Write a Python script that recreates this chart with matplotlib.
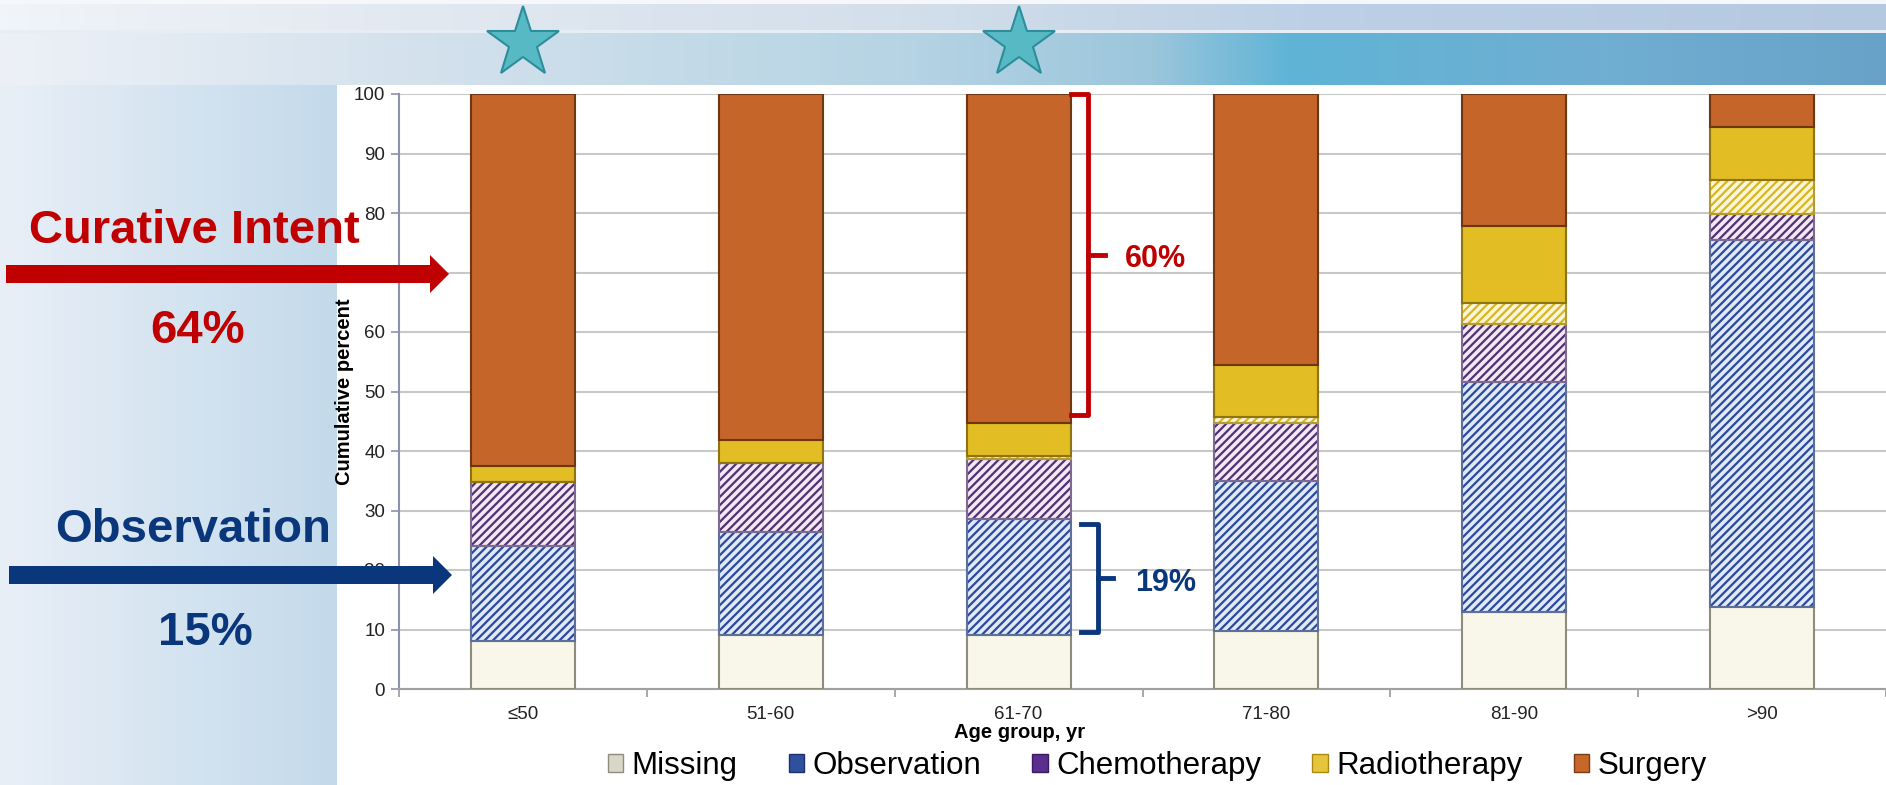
import numpy as np
import matplotlib
matplotlib.use("Agg")
import matplotlib.pyplot as plt
from matplotlib.colors import to_rgb
from matplotlib.patches import Patch, FancyArrow

plt.rcParams['font.family'] = ['Liberation Sans', 'DejaVu Sans']
plt.rcParams['hatch.linewidth'] = 1.6

# DATA (percent of patients per age group)
age_groups = ['≤50', '51-60', '61-70', '71-80', '81-90', '>90']
missing = [8.0, 9.0, 9.0, 9.8, 12.9, 13.8]
observation = [16.0, 17.4, 19.6, 25.2, 38.7, 61.6]
chemotherapy = [10.8, 11.5, 10.1, 9.7, 9.8, 4.4]
radio_hatched = [0.0, 0.0, 0.5, 1.0, 3.5, 5.8]
radiotherapy = [2.7, 3.9, 5.5, 8.8, 12.9, 8.9]
surgery = [62.5, 58.2, 55.3, 45.5, 22.2, 5.5]
starred = ['≤50', '61-70']
curative_range = [46, 100]
observation_range = [9.5, 27.8]

RED = '#C00000'
BLUE = '#0A367C'

W, H = 1886, 785


def hgrad(stops):
    xs = [s[0] for s in stops]
    cols = np.array([to_rgb(s[1]) for s in stops])
    xx = np.arange(W)
    return np.stack([np.interp(xx, xs, cols[:, k]) for k in range(3)], axis=1)


def main():
    fig = plt.figure(figsize=(W / 100, H / 100), dpi=100)

    # slide background
    upper = hgrad([(0, '#f1f4f8'), (400, '#e3e9f1'), (900, '#d3dfeb'),
                   (1300, '#bdd0e5'), (1886, '#b4c8e0')])
    lower = hgrad([(0, '#edf1f7'), (400, '#d5e2ed'), (900, '#b6d4e4'),
                   (1150, '#9cc6dc'), (1290, '#5fb4d6'), (1600, '#70aed2'),
                   (1886, '#68a2c8')])
    left = hgrad([(0, '#e9eff7'), (337, '#c3daeb'), (1886, '#c3daeb')])
    img = np.ones((H, W, 3))
    img[0:4] = to_rgb('#f5f7fa')
    img[4:30] = upper
    img[30:33] = to_rgb('#e6edf4')
    img[33:85] = lower
    img[85:, :337] = left[:337]
    bg = fig.add_axes([0, 0, 1, 1], zorder=0)
    bg.imshow(img, extent=[0, W, H, 0], aspect='auto', interpolation='bilinear')
    bg.set_xlim(0, W)
    bg.set_ylim(H, 0)
    bg.axis('off')

    # chart
    ax = fig.add_axes([399 / W, 1 - 689 / H, 1 - 399 / W, (689 - 94) / H], zorder=1)
    ax.set_facecolor('white')
    x = np.arange(len(age_groups))
    width = 0.42

    layers = [
        (missing, '#f8f7ea', None, None, '#8f8c7c'),
        (observation, '#e0e9f7', '////', '#2c4a9c', '#5f6f9c'),
        (chemotherapy, '#f4e6f2', '////', '#4d3274', '#7d6a90'),
        (radio_hatched, '#fbf6d8', '////', '#d8b622', '#b59a30'),
        (radiotherapy, '#e2bd24', None, None, '#8e7410'),
        (surgery, '#c5652a', None, None, '#6e3612'),
    ]
    bottom = np.zeros(len(age_groups))
    for vals, face, hatch, hcol, edge in layers:
        vals = np.array(vals)
        if hatch:
            ax.bar(x, vals, width, bottom=bottom, color=face, hatch=hatch,
                   edgecolor=hcol, linewidth=0, zorder=2)
        else:
            ax.bar(x, vals, width, bottom=bottom, color=face, linewidth=0, zorder=2)
        ax.bar(x, vals, width, bottom=bottom, fill=False, edgecolor=edge,
               linewidth=1.5, zorder=3)
        bottom += vals

    ax.set_xlim(-0.5, len(age_groups) - 0.5)
    ax.set_ylim(0, 100)
    ax.set_yticks(range(0, 101, 10))
    ax.set_xticks(x)
    ax.set_xticklabels(age_groups)
    ax.set_xticks(np.arange(-0.5, len(age_groups), 1), minor=True)
    ax.tick_params(axis='x', which='major', length=0, pad=12, labelsize=13.5, labelcolor='#222222')
    ax.tick_params(axis='x', which='minor', length=6, color='#9a9a9a', width=1.2)
    ax.tick_params(axis='y', length=6, color='#8c92ac', width=1.2, labelsize=13.5,
                   labelcolor='#222222', pad=4)
    ax.grid(axis='y', color='#c8c8c8', linewidth=1.5)
    ax.set_axisbelow(True)
    for s in ['top', 'right']:
        ax.spines[s].set_visible(False)
    ax.spines['left'].set_color('#8c92ac')
    ax.spines['left'].set_linewidth(1.5)
    ax.spines['bottom'].set_color('#a0a0a0')
    ax.spines['bottom'].set_linewidth(1.5)

    ax.set_ylabel('Cumulative percent', fontsize=14.5, fontweight='bold')
    ax.yaxis.set_label_coords(-0.030, 0.5)
    ax.set_xlabel('Age group, yr', fontsize=14.5, fontweight='bold')
    ax.xaxis.set_label_coords((1020 - 399) / (W - 399), -0.057)

    # stars above highlighted groups
    sx = [age_groups.index(a) for a in starred]
    ax.plot(sx, [108.6] * len(sx), marker='*', ls='none', ms=54, mfc='#56b9c4',
            mec='#2d8e9b', mew=1.5, clip_on=False, zorder=5)

    # brackets next to the 61-70 bar
    i3 = age_groups.index('61-70')
    lo, hi = curative_range
    ax.plot([i3 + 0.21, i3 + 0.28, i3 + 0.28, i3 + 0.21], [hi, hi, lo, lo], color=RED,
            lw=3.5, solid_joinstyle='round', clip_on=False, zorder=5)
    ax.plot([i3 + 0.28, i3 + 0.35], [(lo + hi) / 2] * 2, color=RED, lw=3.5, clip_on=False, zorder=5)
    ax.text(i3 + 0.427, (lo + hi) / 2 - 0.8, '60%', color=RED, fontsize=22, fontweight='bold',
            ha='left', va='center')
    lo, hi = observation_range
    ax.plot([i3 + 0.25, i3 + 0.32, i3 + 0.32, i3 + 0.25], [hi, hi, lo, lo], color=BLUE,
            lw=3.5, solid_joinstyle='round', clip_on=False, zorder=5)
    ax.plot([i3 + 0.32, i3 + 0.38], [(lo + hi) / 2] * 2, color=BLUE, lw=3.5, clip_on=False, zorder=5)
    ax.text(i3 + 0.47, (lo + hi) / 2 - 0.8, '19%', color=BLUE, fontsize=22, fontweight='bold',
            ha='left', va='center')

    handles = [
        Patch(facecolor='#d9d8c8', edgecolor='#8f8c7c', label='Missing'),
        Patch(facecolor='#2f4f9f', edgecolor='#1d3170', label='Observation'),
        Patch(facecolor='#5b2d8e', edgecolor='#3a1a60', label='Chemotherapy'),
        Patch(facecolor='#e6c53a', edgecolor='#a88a14', label='Radiotherapy'),
        Patch(facecolor='#c8672a', edgecolor='#7a3c14', label='Surgery'),
    ]
    fig.legend(handles=handles, loc='center', bbox_to_anchor=(0.6135, 0.024), ncol=5,
               frameon=False, fontsize=22.5, handlelength=0.5, handleheight=0.5,
               handletextpad=0.25, columnspacing=1.65)

    # left side annotations
    ov = fig.add_axes([0, 0, 1, 1], zorder=3)
    ov.set_xlim(0, W)
    ov.set_ylim(H, 0)
    ov.axis('off')
    ov.patch.set_alpha(0)
    ov.add_patch(FancyArrow(6, 274, 443, 0, width=18, head_width=38, head_length=19,
                            length_includes_head=True, color=RED, lw=0))
    ov.add_patch(FancyArrow(9, 575, 443, 0, width=18, head_width=38, head_length=19,
                            length_includes_head=True, color=BLUE, lw=0))
    ov.text(194, 243, 'Curative Intent', color=RED, fontsize=34, fontweight='bold',
            ha='center', va='baseline')
    ov.text(198, 343, '64%', color=RED, fontsize=34, fontweight='bold',
            ha='center', va='baseline')
    ov.text(193, 542, 'Observation', color=BLUE, fontsize=34, fontweight='bold',
            ha='center', va='baseline')
    ov.text(205, 645, '15%', color=BLUE, fontsize=34, fontweight='bold',
            ha='center', va='baseline')

    fig.savefig('out.png', dpi=100)


if __name__ == "__main__":
    main()
